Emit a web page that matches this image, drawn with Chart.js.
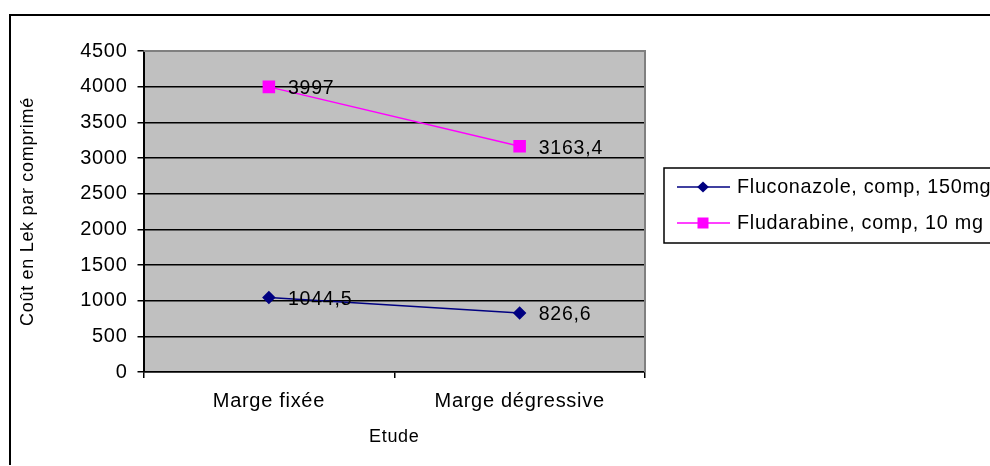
<!DOCTYPE html>
<html>
<head>
<meta charset="utf-8">
<script src="https://cdn.jsdelivr.net/npm/chart.js@4.4.1/dist/chart.umd.min.js"></script>
<style>
  html, body { margin: 0; padding: 0; background: #fff; overflow: hidden; }
</style>
</head>
<body>
<canvas id="chart" width="990" height="466"></canvas>
<script>
const categories = ["Marge fixée", "Marge dégressive"];
const fluconazole = [1044.5, 826.6];
const fludarabine = [3997, 3163.4];
const seriesNames = ["Fluconazole, comp, 150mg", "Fludarabine, comp, 10 mg"];
const yTickValues = [0, 500, 1000, 1500, 2000, 2500, 3000, 3500, 4000, 4500];

const font = "'Liberation Sans', Arial, sans-serif";
const spacing = "0.7px"; // the old office renderer spaces its glyphs a bit wide
Chart.defaults.font.family = font;
Chart.defaults.font.size = 20;
Chart.defaults.color = "#000";

function drawMarker(ctx, style, x, y, color) {
  ctx.fillStyle = color;
  ctx.beginPath();
  if (style === "rectRot") {
    ctx.moveTo(x - 5.8, y);
    ctx.lineTo(x, y - 5.4);
    ctx.lineTo(x + 5.8, y);
    ctx.lineTo(x, y + 5.4);
    ctx.closePath();
  } else {
    ctx.rect(x - 5.5, y - 5.5, 11, 11);
  }
  ctx.fill();
}

const framePlugin = {
  id: "frame",
  beforeUpdate(chart) {
    chart.ctx.letterSpacing = spacing;
  },
  beforeDraw(chart) {
    const { ctx, chartArea: a } = chart;
    ctx.letterSpacing = spacing;
    ctx.save();
    ctx.fillStyle = "#c0c0c0";
    ctx.fillRect(a.left, a.top, a.right - a.left, a.bottom - a.top);
    ctx.strokeStyle = "#000";
    ctx.lineWidth = 2;
    ctx.beginPath();
    ctx.moveTo(10, 465);
    ctx.lineTo(10, 15);
    ctx.lineTo(990, 15);
    ctx.stroke();
    ctx.restore();
  },
  afterDraw(chart) {
    const { ctx, chartArea: a } = chart;
    ctx.save();
    ctx.strokeStyle = "#808080";
    ctx.lineWidth = 2;
    ctx.beginPath();
    ctx.moveTo(a.left, a.top);
    ctx.lineTo(a.right, a.top);
    ctx.lineTo(a.right, a.bottom);
    ctx.stroke();

    // legend
    ctx.strokeStyle = "#000";
    ctx.lineWidth = 1.5;
    ctx.strokeRect(664, 168, 400, 75);
    const rows = [187, 223];
    chart.data.datasets.forEach(function (ds, i) {
      const y = rows[i];
      ctx.strokeStyle = ds.borderColor;
      ctx.lineWidth = 1.5;
      ctx.beginPath();
      ctx.moveTo(677, y);
      ctx.lineTo(730, y);
      ctx.stroke();
      drawMarker(ctx, ds.pointStyle, 703, y, ds.borderColor);
      ctx.fillStyle = "#000";
      ctx.font = "19.8px " + font;
      ctx.letterSpacing = "0.7px";
      ctx.textBaseline = "middle";
      ctx.textAlign = "left";
      ctx.fillText(ds.label, 737, y + 1);
    });
    ctx.restore();
  },
  afterDatasetsDraw(chart) {
    const ctx = chart.ctx;
    ctx.save();
    ctx.fillStyle = "#000";
    ctx.font = "19.5px " + font;
    ctx.letterSpacing = "0.8px";
    ctx.textBaseline = "middle";
    ctx.textAlign = "left";
    chart.data.datasets.forEach(function (ds, i) {
      chart.getDatasetMeta(i).data.forEach(function (pt, j) {
        ctx.fillText(String(ds.data[j]).replace(".", ","), pt.x + 19, pt.y + 2);
      });
    });
    ctx.restore();
  }
};

new Chart(document.getElementById("chart"), {
  type: "line",
  data: {
    labels: categories,
    datasets: [
      {
        label: seriesNames[0],
        data: fluconazole,
        borderColor: "#000080",
        backgroundColor: "#000080",
        borderWidth: 1.5,
        pointStyle: "rectRot",
        pointRadius: 5.7,
        tension: 0
      },
      {
        label: seriesNames[1],
        data: fludarabine,
        borderColor: "#ff00ff",
        backgroundColor: "#ff00ff",
        borderWidth: 1.5,
        pointStyle: "rect",
        pointRadius: 7.8,
        tension: 0
      }
    ]
  },
  options: {
    responsive: false,
    devicePixelRatio: 1,
    animation: false,
    layout: { padding: { left: 0, right: 345, top: 51, bottom: 0 } },
    plugins: {
      legend: { display: false },
      tooltip: { enabled: false }
    },
    scales: {
      x: {
        offset: true,
        grid: { offset: true, drawOnChartArea: false, tickLength: 6, color: "#000", lineWidth: 1.5 },
        border: { color: "#000", width: 1.5 },
        ticks: { padding: 11, font: { size: 20 } },
        title: { display: true, text: "Etude", font: { size: 18 }, padding: { top: 4, bottom: 18 } },
        afterFit(s) { s.height = 94; }
      },
      y: {
        min: 0,
        max: 4500,
        afterBuildTicks(s) { s.ticks = yTickValues.map(v => ({ value: v })); },
        grid: { color: "#000", lineWidth: 1.5, tickLength: 6 },
        border: { color: "#000", width: 2 },
        ticks: { padding: 10, font: { size: 20 }, callback: v => String(v) },
        title: { display: true, text: "Coût en Lek par comprimé", font: { size: 18 }, padding: { top: 17 } },
        afterFit(s) { s.width = 143.5; }
      }
    }
  },
  plugins: [framePlugin]
});
</script>
</body>
</html>
